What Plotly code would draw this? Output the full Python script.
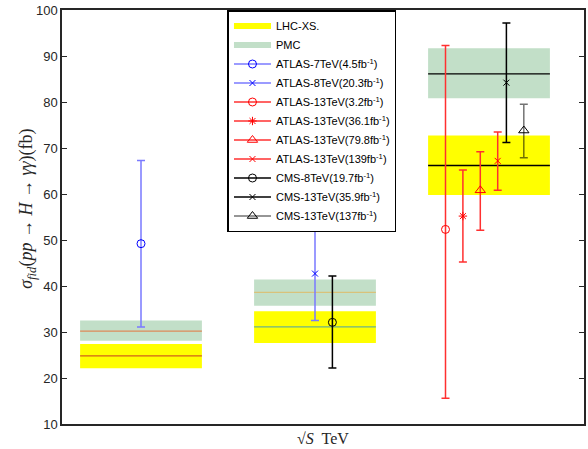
import plotly.graph_objects as go

# ---- data ----
group_x = [1, 2, 3]
box_half = 0.35
lhc_center = [24.8, 31.1, 66.2]
lhc_low = [22.1, 27.6, 59.8]
lhc_high = [27.4, 34.5, 72.7]
pmc_center = [30.2, 38.6, 86.1]
pmc_low = [28.1, 35.7, 80.8]
pmc_high = [32.5, 41.4, 91.7]

meas_names = ["ATLAS-7TeV(4.5fb<sup>-1</sup>)", "ATLAS-8TeV(20.3fb<sup>-1</sup>)",
              "ATLAS-13TeV(3.2fb<sup>-1</sup>)", "ATLAS-13TeV(36.1fb<sup>-1</sup>)",
              "ATLAS-13TeV(79.8fb<sup>-1</sup>)", "ATLAS-13TeV(139fb<sup>-1</sup>)",
              "CMS-8TeV(19.7fb<sup>-1</sup>)", "CMS-13TeV(35.9fb<sup>-1</sup>)",
              "CMS-13TeV(137fb<sup>-1</sup>)"]
meas_x = [1.0, 2.0, 2.75, 2.85, 2.95, 3.05, 2.1, 3.1, 3.2]
meas_val = [49.2, 42.7, 52.3, 55.2, 60.8, 67.2, 32.1, 84.2, 73.8]
meas_up = [67.3, 52.8, 92.3, 65.2, 69.2, 73.5, 42.2, 97.2, 79.5]
meas_lo = [31.1, 32.5, 15.6, 45.2, 52.1, 60.8, 22.2, 71.2, 67.9]

# ---- styles ----
meas_symbol = ["circle-open", "x-thin-open", "circle-open", "asterisk-open",
               "triangle-up-open", "x-thin-open", "circle-open", "x-thin-open",
               "triangle-up-open"]
meas_size = [8, 6, 8, 7, 9, 6, 8, 6, 9]
meas_marker_color = ["#0000ff", "#0000ff", "#ff0000", "#ff0000", "#ff0000", "#ff0000",
                     "#000000", "#000000", "#000000"]
meas_line_color = ["#7a7aff", "#7a7aff", "#ff3030", "#ff3030", "#ff3030", "#ff3030",
                   "#000000", "#000000", "rgba(0,0,0,0.55)"]
lhc_line_colors = ["#d0601a", "#6db38a", "#000000"]
pmc_line_colors = ["#dd8a5a", "#d9c27a", "#000000"]

fig = go.Figure()


def box_path(lows, highs):
    xs, ys = [], []
    for g, lo, hi in zip(group_x, lows, highs):
        xs += [g - box_half, g + box_half, g + box_half, g - box_half, g - box_half, None]
        ys += [lo, lo, hi, hi, lo, None]
    return xs, ys


xs, ys = box_path(lhc_low, lhc_high)
fig.add_trace(go.Scatter(x=xs, y=ys, fill="toself", fillcolor="#ffff00", mode="none",
                         name="LHC-XS."))
xs, ys = box_path(pmc_low, pmc_high)
fig.add_trace(go.Scatter(x=xs, y=ys, fill="toself", fillcolor="#c2dfc8", mode="none",
                         name="PMC"))

for g, c, col in zip(group_x, lhc_center, lhc_line_colors):
    fig.add_trace(go.Scatter(x=[g - box_half, g + box_half], y=[c, c], mode="lines",
                             line=dict(color=col, width=1.3), showlegend=False,
                             hoverinfo="skip"))
for g, c, col in zip(group_x, pmc_center, pmc_line_colors):
    fig.add_trace(go.Scatter(x=[g - box_half, g + box_half], y=[c, c], mode="lines",
                             line=dict(color=col, width=1.3), showlegend=False,
                             hoverinfo="skip"))

for i in range(len(meas_names)):
    fig.add_trace(go.Scatter(
        x=[meas_x[i]], y=[meas_val[i]], mode="lines+markers", name=meas_names[i],
        line=dict(color=meas_line_color[i], width=1.3),
        marker=dict(symbol=meas_symbol[i], size=meas_size[i], color=meas_marker_color[i],
                    line=dict(width=1, color=meas_marker_color[i])),
        error_y=dict(type="data", symmetric=False,
                     array=[meas_up[i] - meas_val[i]],
                     arrayminus=[meas_val[i] - meas_lo[i]],
                     color=meas_line_color[i], thickness=1.5, width=4),
    ))

fig.update_layout(
    width=588, height=449,
    margin=dict(l=62, r=2, t=10, b=25),
    paper_bgcolor="white", plot_bgcolor="white",
    font=dict(family="Liberation Sans, Arial", size=12, color="#262626"),
    showlegend=True,
    legend=dict(x=0.317, y=1.0, xanchor="left", yanchor="top",
                bgcolor="white", bordercolor="#000000", borderwidth=1.5,
                font=dict(size=11, color="#000000"), tracegroupgap=0,
                itemwidth=37),
    xaxis=dict(range=[0.546, 3.546], showticklabels=False, ticks="",
               showgrid=False, zeroline=False, showline=True, linecolor="#262626",
               linewidth=1.5, mirror=True),
    yaxis=dict(range=[10, 100], dtick=10, ticks="inside", ticklen=5,
               tickcolor="#262626", showgrid=False, zeroline=False, showline=True,
               linecolor="#262626", linewidth=1.5, mirror="ticks",
               tickfont=dict(size=13, color="#262626")),
    annotations=[
        dict(text="√<i>S</i>  TeV", xref="paper", yref="paper", x=0.5, y=-0.01,
             xanchor="center", yanchor="top", showarrow=False,
             font=dict(family="Liberation Serif, Times New Roman", size=16, color="#262626")),
        dict(text="<i>σ</i><sub><i>fid</i></sub>(<i>pp</i> → <i>H</i> → <i>γγ</i>)(fb)",
             xref="paper", yref="paper", x=-0.065, y=0.52, textangle=-90,
             xanchor="center", yanchor="middle", showarrow=False,
             font=dict(family="Liberation Serif, Times New Roman", size=18, color="#262626")),
    ],
)

fig.write_html("out.html", config={"displayModeBar": False},
               post_script="document.body.style.margin='0';")
